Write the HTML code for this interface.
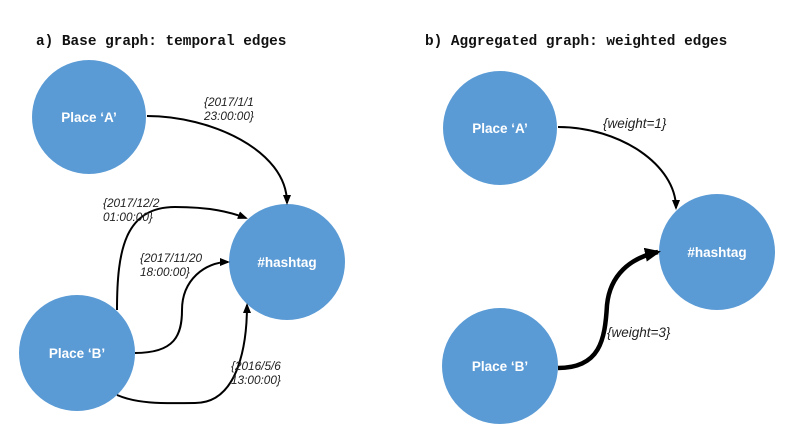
<!DOCTYPE html>
<html><head><meta charset="utf-8"><style>
html,body{margin:0;padding:0;background:#fff;}
svg{display:block;}
.t{font-family:"Liberation Mono",monospace;font-weight:bold;font-size:14.4px;fill:#111;}
.n{font-family:"Liberation Sans",sans-serif;font-weight:bold;font-size:13.5px;fill:#fff;text-anchor:middle;}
.l{font-family:"Liberation Sans",sans-serif;font-style:italic;font-size:11.8px;fill:#222;}
.w{font-family:"Liberation Sans",sans-serif;font-style:italic;font-size:13.5px;fill:#222;}
</style></head><body>
<svg width="796" height="448" viewBox="0 0 796 448" xmlns="http://www.w3.org/2000/svg">
<defs>
<marker id="a" markerWidth="10" markerHeight="10" refX="8" refY="5" orient="auto" markerUnits="userSpaceOnUse"><path d="M0,1 L10,5 L0,9 Z" fill="#000"/></marker>
<marker id="b" markerWidth="16" markerHeight="14" refX="13" refY="7" orient="auto" markerUnits="userSpaceOnUse"><path d="M0,0 L16,7 L0,14 Z" fill="#000"/></marker>
</defs>
<text class="t" x="36" y="45">a) Base graph: temporal edges</text>
<text class="t" x="425" y="45">b) Aggregated graph: weighted edges</text>

<g fill="#5b9bd5">
<circle cx="89" cy="117" r="57"/>
<circle cx="77" cy="353" r="58"/>
<circle cx="287" cy="262" r="58"/>
<circle cx="500" cy="128" r="57"/>
<circle cx="717" cy="252" r="58"/>
<circle cx="500" cy="366" r="58"/>
</g>
<text class="n" x="89" y="122">Place ‘A’</text>
<text class="n" x="77" y="358">Place ‘B’</text>
<text class="n" x="287" y="267">#hashtag</text>
<text class="n" x="500" y="133">Place ‘A’</text>
<text class="n" x="717" y="257">#hashtag</text>
<text class="n" x="500" y="371">Place ‘B’</text>

<g fill="none" stroke="#000" stroke-width="2">
<path d="M147,116 C210,116 287,150 287,203" marker-end="url(#a)"/>
<path d="M117,310 C117,250 125,207 175,207 C210,207 230,212 246,218" marker-end="url(#a)"/>
<path d="M135,353 C175,353 182,335 182,310 C182,280 205,262 228,262" marker-end="url(#a)"/>
<path d="M117,395 C140,405 170,403 195,403 C240,403 247,340 247,305" marker-end="url(#a)"/>
<path d="M558,127 C620,127 676,165 676,208" marker-end="url(#a)"/>
<path d="M558,368 C600,368 605,340 607,305 C610,275 630,258 658,252" stroke-width="4.5" marker-end="url(#b)"/>
</g>

<text class="l" x="204" y="106">{2017/1/1</text>
<text class="l" x="204" y="120">23:00:00}</text>
<text class="l" x="103" y="207">{2017/12/2</text>
<text class="l" x="103" y="221">01:00:00}</text>
<text class="l" x="140" y="262">{2017/11/20</text>
<text class="l" x="140" y="276">18:00:00}</text>
<text class="l" x="231" y="370">{2016/5/6</text>
<text class="l" x="231" y="384">13:00:00}</text>
<text class="w" x="603" y="128">{weight=1}</text>
<text class="w" x="607" y="337">{weight=3}</text>
</svg>
</body></html>
